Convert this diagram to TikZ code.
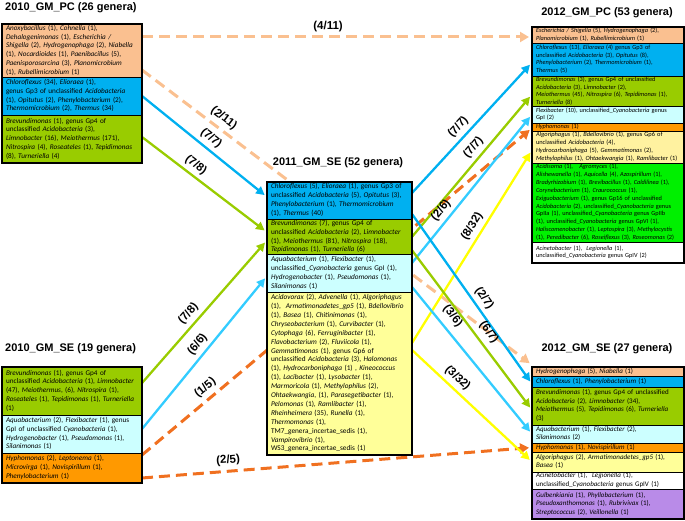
\documentclass[tikz,border=0pt]{standalone}
\usepackage{fontspec}
\setmainfont{Carlito}
\newfontfamily\hdfont{Liberation Sans}
\usetikzlibrary{arrows.meta}
\pgfdeclarelayer{bg}
\pgfsetlayers{bg,main}
\newcommand\gn[1]{\textit{#1}}
\newcommand\seclines[1]{\begin{tabular}{@{}l@{}}#1\end{tabular}}
\definecolor{peach}{HTML}{FAC090}
\definecolor{cyanA}{HTML}{00B0F0}
\definecolor{cyanB}{HTML}{CCFFFF}
\definecolor{cyanL}{HTML}{33CCFF}
\definecolor{grn}{HTML}{99CC00}
\definecolor{orng}{HTML}{FF9900}
\definecolor{orngL}{HTML}{F07020}
\definecolor{ylw}{HTML}{FFFF99}
\definecolor{ylwL}{HTML}{FFFF00}
\definecolor{ylwB}{HTML}{FFF2A0}
\definecolor{bgrn}{HTML}{00F000}
\definecolor{purp}{HTML}{B98BE8}
\tikzset{
  sec/.style={draw=black, line width=0.4pt, anchor=north west, inner xsep=4pt, inner ysep=0pt, align=left, outer sep=0pt},
  fL/.style={font=\fontsize{7.2}{8.8}\selectfont},
  fC/.style={font=\fontsize{7.3}{8.9}\selectfont},
  fR/.style={font=\fontsize{6.3}{7.7}\selectfont},
  fS/.style={font=\fontsize{7}{8.5}\selectfont},
  boxline/.style={draw=black, line width=2pt},
  ttl/.style={font=\hdfont\bfseries\fontsize{11}{13}\selectfont, inner sep=0pt},
  lbl/.style={font=\hdfont\bfseries\fontsize{11.5}{13}\selectfont, inner sep=0pt, sloped, above=4pt, text=black},
  arr/.style={line width=2.3pt, -{Triangle[length=8.5pt,width=8.5pt]}, shorten >=3pt},
  darr/.style={line width=3pt, dash pattern=on 11pt off 6pt, -{Triangle[length=9pt,width=10pt]}, shorten >=3pt}
}
\begin{document}
\begin{tikzpicture}[x=1pt,y=-1pt]
\useasboundingbox (0,0) rectangle (685,521);

% ---------- titles
\node[ttl, anchor=west] (tTL) at (5,8) {2010\_GM\_PC (26 genera)};
\node[ttl, anchor=west] (tBL) at (5,349) {2010\_GM\_SE (19 genera)};
\node[ttl] (tC) at (338,163) {2011\_GM\_SE (52 genera)};
\node[ttl] (tTR) at (607,13) {2012\_GM\_PC (53 genera)};
\node[ttl] (tBR) at (607,349) {2012\_GM\_SE (27 genera)};

% ---------- top-left box
\node[sec, fL, fill=peach, text width=132pt, minimum height=53pt] (tlA) at (2,24) {\seclines{%
\gn{Anoxybacillus} (1), \gn{Cohnella} (1),\\
\gn{Dehalogenimonas} (1), \gn{Escherichia /}\\
\gn{Shigella} (2), \gn{Hydrogenophaga} (2), \gn{Niabella}\\
(1), \gn{Nocardioides} (1), \gn{Paenibacillus} (5),\\
\gn{Paenisporosarcina} (3), \gn{Planomicrobium}\\
(1), \gn{Rubellimicrobium} (1)}};
\node[sec, fL, fill=cyanA, text width=132pt, minimum height=38pt] (tlB) at (2,77) {\seclines{%
\gn{Chloroflexus} (34), \gn{Elioraea} (1),\\
genus Gp3 of unclassified \gn{Acidobacteria}\\
(1), \gn{Opitutus} (2), \gn{Phenylobacterium} (2),\\
\gn{Thermomicrobium} (2), \gn{Thermus} (34)}};
\node[sec, fL, fill=grn, text width=132pt, minimum height=48pt] (tlC) at (2,115) {\seclines{%
\gn{Brevundimonas} (1), genus Gp4 of\\
unclassified \gn{Acidobacteria} (3),\\
\gn{Limnobacter} (16), \gn{Meiothermus} (171),\\
\gn{Nitrospira} (4), \gn{Roseateles} (1), \gn{Tepidimonas}\\
(8), \gn{Turneriella} (4)}};
\draw[boxline] (tlA.north west) rectangle (tlC.south east);

% ---------- bottom-left box
\node[sec, fL, fill=grn, text width=132pt, minimum height=48pt] (blA) at (2,367) {\seclines{%
\gn{Brevundimonas} (1), genus Gp4 of\\
unclassified \gn{Acidobacteria} (1), \gn{Limnobacter}\\
(47), \gn{Meiothermus}, (6), \gn{Nitrospira} (1),\\
\gn{Roseateles} (1), \gn{Tepidimonas} (1), \gn{Turneriella}\\
(1)}};
\node[sec, fL, fill=cyanB, text width=132pt, minimum height=38pt] (blB) at (2,415) {\seclines{%
\gn{Aquabacterium} (2), \gn{Flexibacter} (1), genus\\
GpI of unclassified \gn{Cyanobacteria} (1),\\
\gn{Hydrogenobacter} (1), \gn{Pseudomonas} (1),\\
\gn{Silanimonas} (1)}};
\node[sec, fL, fill=orng, text width=132pt, minimum height=30pt] (blC) at (2,453) {\seclines{%
\gn{Hyphomonas} (2), \gn{Leptonema} (1),\\
\gn{Microvirga} (1), \gn{Novispirillum} (1),\\
\gn{Phenylobacterium} (1)}};
\draw[boxline] (blA.north west) rectangle (blC.south east);

% ---------- centre box
\node[sec, fC, fill=cyanA, text width=137pt, minimum height=37pt] (cA) at (267,182) {\seclines{%
\gn{Chloroflexus} (5), \gn{Elioraea} (1), genus Gp3 of\\
unclassified \gn{Acidobacteria} (5), \gn{Opitutus} (3),\\
\gn{Phenylobacterium} (1), \gn{Thermomicrobium}\\
(1), \gn{Thermus} (40)}};
\node[sec, fC, fill=grn, text width=137pt, minimum height=35pt] (cB) at (267,219) {\seclines{%
\gn{Brevundimonas} (7), genus Gp4 of\\
unclassified \gn{Acidobacteria} (2), \gn{Limnobacter}\\
(1), \gn{Meiothermus} (81), \gn{Nitrospira} (18),\\
\gn{Tepidimonas} (1), \gn{Turneriella} (6)}};
\node[sec, fC, fill=cyanB, text width=137pt, minimum height=38pt] (cC) at (267,254) {\seclines{%
\gn{Aquabacterium} (1), \gn{Flexibacter} (1),\\
unclassified\_\gn{Cyanobacteria} genus GpI (1),\\
\gn{Hydrogenobacter} (1), \gn{Pseudomonas} (1),\\
\gn{Silanimonas} (1)}};
\node[sec, fC, fill=ylw, text width=137pt, minimum height=163pt] (cD) at (267,292) {\seclines{%
\gn{Acidovorax} (2), \gn{Advenella} (1), \gn{Algoriphagus}\\
(1),\ \ \gn{Armatimonadetes\_gp5} (1), \gn{Bdellovibrio}\\
(1), \gn{Basea} (1), \gn{Chitinimonas} (1),\\
\gn{Chryseobacterium} (1), \gn{Curvibacter} (1),\\
\gn{Cytophaga} (6), \gn{Ferruginibacter} (1),\\
\gn{Flavobacterium} (2), \gn{Fluviicola} (1),\\
\gn{Gemmatimonas} (1), genus Gp6 of\\
unclassified \gn{Acidobacteria} (3), \gn{Halomonas}\\
(1), \gn{Hydrocarboniphaga} (1) , \gn{Kineococcus}\\
(1), \gn{Lacibacter} (1), \gn{Lysobacter} (1),\\
\gn{Marmoricola} (1), \gn{Methylophilus} (2),\\
\gn{Ohtaekwangia}, (1), \gn{Parasegetibacter} (1),\\
\gn{Pelomonas} (1), \gn{Ramlibacter} (1),\\
\gn{Rheinheimera} (35), \gn{Runella} (1),\\
\gn{Thermomonas} (1),\\
TM7\_genera\_incertae\_sedis (1),\\
\gn{Vampirovibrio} (1),\\
WS3\_genera\_incertae\_sedis (1)}};
\draw[boxline] (cA.north west) rectangle (cD.south east);

% ---------- top-right box
\node[sec, fR, fill=peach, text width=144pt, minimum height=16pt] (trA) at (532,27) {\seclines{%
\gn{Escherichia / Shigella} (5), \gn{Hydrogenophaga} (2),\\
\gn{Planomicrobium} (1), \gn{Rubellimicrobium} (1)}};
\node[sec, fR, fill=cyanA, text width=144pt, minimum height=33pt] (trB) at (532,43) {\seclines{%
\gn{Chloroflexus} (13), \gn{Elioraea} (4) genus Gp3 of\\
unclassified \gn{Acidobacteria} (3), \gn{Opitutus} (8),\\
\gn{Phenylobacterium} (2), \gn{Thermomicrobium} (1),\\
\gn{Thermus} (5)}};
\node[sec, fR, fill=grn, text width=144pt, minimum height=30pt] (trC) at (532,76) {\seclines{%
\gn{Brevundimonas} (3), genus Gp4 of unclassified\\
\gn{Acidobacteria} (3), \gn{Limnobacter} (2),\\
\gn{Meiothermus} (45), \gn{Nitrospira} (6), \gn{Tepidimonas} (1),\\
\gn{Turneriella} (8)}};
\node[sec, fR, fill=cyanB, text width=144pt, minimum height=17pt] (trD) at (532,106) {\seclines{%
\gn{Flexibacter} (10), unclassified\_\gn{Cyanobacteria} genus\\
GpI (2)}};
\node[sec, fR, fill=orng, text width=144pt, minimum height=8pt] (trE) at (532,123) {\seclines{%
\gn{Hyphomonas} (1)}};
\node[sec, fR, fill=ylwB, text width=144pt, minimum height=32pt, font=\fontsize{6.4}{8}\selectfont] (trF) at (532,131) {\seclines{%
\gn{Algoriphagus} (1), \gn{Bdellovibrio} (1), genus Gp6 of\\
unclassified \gn{Acidobacteria} (4),\\
\gn{Hydrocarboniphaga} (5), \gn{Gemmatimonas} (2),\\
\gn{Methylophilus} (1), \gn{Ohtaekwangia} (1), \gn{Ramlibacter} (1)}};
\node[sec, fill=bgrn, text width=144pt, minimum height=79pt, font=\fontsize{6.3}{7.9}\selectfont] (trG) at (532,163) {\seclines{%
\gn{Acidisoma} (1),\quad \gn{Agromyces} (1),\\
\gn{Alishewanella} (1), \gn{Aquicella} (4), \gn{Azospirillum} (1),\\
\gn{Bradyrhizobium} (1), \gn{Brevibacillus} (1), \gn{Caldilinea} (1),\\
\gn{Corynebacterium} (1), \gn{Craurococcus} (1),\\
\gn{Exiguobacterium} (1), genus Gp16 of unclassified\\
\gn{Acidobacteria} (2), unclassified\_\gn{Cyanobacteria} genus\\
GpIIa (1), unclassified\_\gn{Cyanobacteria} genus GpIIb\\
(1), unclassified\_\gn{Cyanobacteria} genus GpVI (1),\\
\gn{Haliscomenobacter} (1), \gn{Leptospira} (3), \gn{Methylocystis}\\
(1), \gn{Peredibacter} (6), \gn{Roseiflexus} (3), \gn{Roseomonas} (2)}};
\node[sec, fR, fill=white, text width=144pt, minimum height=21pt] (trH) at (532,242) {\seclines{%
\gn{Acinetobacter} (1),\ \ \gn{Legionella} (1),\\
unclassified\_\gn{Cyanobacteria} genus GpIV (2)}};
\draw[boxline] (trA.north west) rectangle (trH.south east);

% ---------- bottom-right box
\node[sec, fS, fill=peach, text width=144pt, minimum height=9pt] (brA) at (532,367) {\seclines{%
\gn{Hydrogenophaga} (5), \gn{Niabella} (1)}};
\node[sec, fS, fill=cyanA, text width=144pt, minimum height=11pt] (brB) at (532,376) {\seclines{%
\gn{Chloroflexus} (1), \gn{Phenylobacterium} (1)}};
\node[sec, fS, fill=grn, text width=144pt, minimum height=38pt] (brC) at (532,387) {\seclines{%
\gn{Brevundimonas} (1), genus Gp4 of unclassified\\
\gn{Acidobacteria} (2), \gn{Limnobacter} (34),\\
\gn{Meiothermus} (5), \gn{Tepidimonas} (6), \gn{Turneriella}\\
(3)}};
\node[sec, fS, fill=cyanB, text width=144pt, minimum height=18pt] (brD) at (532,425) {\seclines{%
\gn{Aquabacterium} (1), \gn{Flexibacter} (2),\\
\gn{Silanimonas} (2)}};
\node[sec, fS, fill=orng, text width=144pt, minimum height=9pt] (brE) at (532,443) {\seclines{%
\gn{Hyphomonas} (1), \gn{Novispirillum} (1)}};
\node[sec, fS, fill=ylw, text width=144pt, minimum height=20pt] (brF) at (532,452) {\seclines{%
\gn{Algoriphagus} (2), \gn{Armatimonadetes\_gp5} (1),\\
\gn{Basea} (1)}};
\node[sec, fS, fill=white, text width=144pt, minimum height=17pt] (brG) at (532,472) {\seclines{%
\gn{Acinetobacter} (1),\ \ \gn{Legionella} (1),\\
unclassified\_\gn{Cyanobacteria} genus GpIV (1)}};
\node[sec, fS, fill=purp, text width=144pt, minimum height=30pt] (brH) at (532,489) {\seclines{%
\gn{Gulbenkiania} (1), \gn{Phyllobacterium} (1),\\
\gn{Pseudoxanthomonas} (1), \gn{Rubrivivax} (1),\\
\gn{Streptococcus} (2), \gn{Veillonella} (1)}};
\draw[boxline] (brA.north west) rectangle (brH.south east);

% ---------- connectors
\begin{pgfonlayer}{bg}
% from 2010_GM_PC
\draw[darr, peach] ([yshift=13.5pt]tlA.east) -- node[lbl, pos=0.477] {(4/11)} ([yshift=-2pt]trA.west);
\draw[darr, peach] ([yshift=-19.5pt]tlA.east) -- node[lbl, pos=0.193] {(2/11)} ([yshift=6.5pt]brA.west);
\draw[arr, cyanA] (tlB.east) -- node[lbl, pos=0.5] {(7/7)} ([yshift=3.5pt]cA.west);
\draw[arr, grn] ([yshift=2pt]tlC.east) -- node[lbl, pos=0.38] {(7/8)} ([yshift=4.5pt]cB.west);
% from 2010_GM_SE
\draw[arr, grn] ([yshift=8pt]blA.east) -- node[lbl, pos=0.435] {(7/8)} ([yshift=-3.5pt]cB.west);
\draw[arr, cyanL] ([yshift=5pt]blB.east) -- node[lbl, pos=0.51] {(6/6)} ([yshift=-3pt]cC.west);
\draw[darr, orngL] ([yshift=13pt]blC.east) -- node[lbl, pos=0.18] {(1/5)} ([yshift=-1pt]trE.west);
\draw[darr, orngL] ([yshift=-10pt]blC.east) -- node[lbl, pos=0.223] {(2/5)} (brE.west);
% from 2011_GM_SE to 2012_GM_PC
\draw[arr, cyanA] ([yshift=7.5pt]cA.east) -- node[lbl, pos=0.45] {(7/7)} ([yshift=-3pt]trB.west);
\draw[arr, grn] (cB.east) -- node[lbl, pos=0.58] {(7/7)} ([yshift=-3pt]trC.west);
\draw[arr, cyanL] ([yshift=10pt]cC.east) -- node[lbl, pos=0.31] {(2/6)} (trD.west);
\draw[arr, ylwL] ([yshift=30.5pt]cD.east) -- node[lbl, pos=0.575] {(8/32)} ([yshift=-3pt]trF.west);
% from 2011_GM_SE to 2012_GM_SE
\draw[arr, cyanA] ([yshift=-13.5pt]cA.east) -- node[lbl, pos=0.53] {(2/7)} ([yshift=-2.5pt]brB.west);
\draw[arr, grn] ([yshift=-13.5pt]cB.east) -- node[lbl, pos=0.56, above=1.5pt] {(6/7)} ([yshift=-4pt]brC.west);
\draw[arr, cyanL] ([yshift=-14pt]cC.east) -- node[lbl, pos=0.255, above=2.5pt] {(3/6)} (brD.west);
\draw[arr, ylwL] ([yshift=23.5pt]cD.east) -- node[lbl, pos=0.32] {(3/32)} (brF.west);
\end{pgfonlayer}
\end{tikzpicture}
\end{document}
